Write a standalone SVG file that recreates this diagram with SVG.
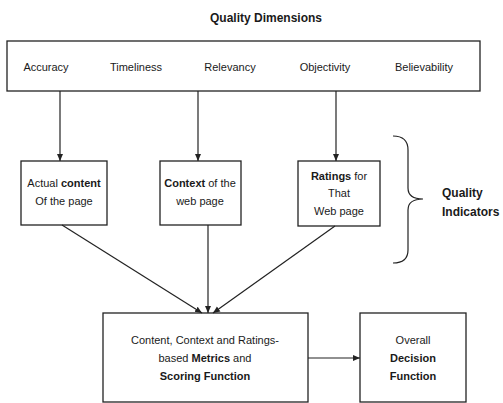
<svg xmlns="http://www.w3.org/2000/svg" width="503" height="403" viewBox="0 0 503 403">
<style>
text{font-family:"Liberation Sans",Arial,sans-serif;font-size:11px;fill:#1a1a1a;text-anchor:middle}
.b{font-weight:bold}
.box{fill:#fff;stroke:#222;stroke-width:1.3}
.ln{stroke:#222;stroke-width:1.2;fill:none}
</style>
<defs>
<marker id="ah" markerWidth="8" markerHeight="8" refX="7" refY="4" orient="auto" markerUnits="userSpaceOnUse">
<path d="M0,1 L7,4 L0,7 Z" fill="#222"/>
</marker>
</defs>
<rect width="503" height="403" fill="#fff"/>
<text x="266" y="22" class="b" style="font-size:12px">Quality Dimensions</text>
<g id="dimensions">
<rect class="box" x="7" y="41" width="473" height="50"/>
<text x="46" y="71">Accuracy</text>
<text x="136" y="71">Timeliness</text>
<text x="230" y="71">Relevancy</text>
<text x="325" y="71">Objectivity</text>
<text x="424" y="71">Believability</text>
</g>
<g id="content">
<rect class="box" x="21" y="161" width="86" height="64"/>
<text x="64" y="187">Actual <tspan class="b">content</tspan></text>
<text x="64" y="205">Of the page</text>
</g>
<g id="context">
<rect class="box" x="160" y="161" width="81" height="64"/>
<text x="200" y="187"><tspan class="b">Context</tspan> of the</text>
<text x="200" y="205">web page</text>
</g>
<g id="ratings">
<rect class="box" x="298" y="161" width="82" height="65"/>
<text x="339" y="180"><tspan class="b">Ratings</tspan> for</text>
<text x="339" y="197">That</text>
<text x="339" y="215">Web page</text>
</g>
<g id="indicators">
<path class="ln" d="M393,136 C403,136 408,140 408,150 L408,188 C408,195 412,199 423,199 C412,199 408,203 408,210 L408,250 C408,259 403,263 393,263" stroke-width="1"/>
<text x="442" y="197" class="b" style="font-size:12px;text-anchor:start">Quality</text>
<text x="442" y="216" class="b" style="font-size:12px;text-anchor:start">Indicators</text>
</g>
<g id="metrics">
<rect class="box" x="103" y="313" width="205" height="89"/>
<text x="205" y="344">Content, Context and Ratings-</text>
<text x="205" y="362">based <tspan class="b">Metrics</tspan> and</text>
<text x="205" y="380" class="b">Scoring Function</text>
</g>
<g id="decision">
<rect class="box" x="360" y="313" width="106" height="89"/>
<text x="413" y="344">Overall</text>
<text x="413" y="362" class="b">Decision</text>
<text x="413" y="380" class="b">Function</text>
</g>
<g id="connectors">
<line class="ln" x1="60" y1="91" x2="60" y2="161" marker-end="url(#ah)"/>
<line class="ln" x1="198" y1="91" x2="198" y2="161" marker-end="url(#ah)"/>
<line class="ln" x1="336" y1="91" x2="336" y2="161" marker-end="url(#ah)"/>
<line class="ln" x1="62" y1="225" x2="202" y2="313" marker-end="url(#ah)"/>
<line class="ln" x1="208" y1="225" x2="208" y2="313" marker-end="url(#ah)"/>
<line class="ln" x1="335" y1="226" x2="213" y2="313" marker-end="url(#ah)"/>
<line class="ln" x1="308" y1="358" x2="360" y2="358" marker-end="url(#ah)"/>
</g>
</svg>
